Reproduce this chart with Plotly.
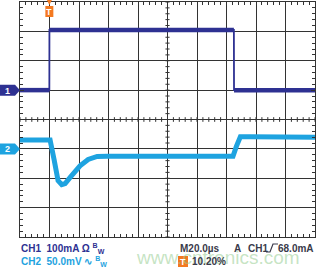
import plotly.graph_objects as go

# ---- data (time in microseconds) ----
ch1_time_us = [0, 19.9, 19.95, 145.0, 145.1, 200]
ch1_current_mA = [0, 0, 205, 205, 0, 0]

ch2_time_us = [0, 20.4, 23.1, 25.8, 28.3, 30.6, 34.0, 37.4, 40.7, 46.2, 52.3, 59.1,
               144.4, 146.7, 149.4, 156.2, 200]
ch2_voltage_mV = [15, 15, -18, -54, -61, -59, -48.6, -38.4, -29, -18, -12.8, -12.5,
                  -12.5, 4.3, 20.5, 20.5, 20]

ch1_scale_mA = 100.0   # per division
ch2_scale_mV = 50.0    # per division
ch1_ground_div = 1.0
ch2_ground_div = -1.0
trigger_time_us = 19.9

W, H = 318, 272
L, R, T, B = 20, 3, 2, 35
PW, PH = W - L - R, H - T - B


def pxx(px):
    return (px - L) / PW


def pxy(py):
    return (H - B - py) / PH


CH1_COLOR = "#2e3192"
CH2_COLOR = "#1ea3e0"
ORANGE = "#f47920"
GRID = "#333333"
TXT = "#3a3a4a"

ch1_div = [ch1_ground_div + v / ch1_scale_mA for v in ch1_current_mA]
ch2_div = [ch2_ground_div + v / ch2_scale_mV for v in ch2_voltage_mV]

# thick (noisy-looking) flat parts of CH1, thin edges
ch1_flat_x, ch1_flat_y = [], []
for i in range(len(ch1_time_us) - 1):
    if ch1_div[i] == ch1_div[i + 1]:
        ch1_flat_x += [ch1_time_us[i], ch1_time_us[i + 1], None]
        ch1_flat_y += [ch1_div[i], ch1_div[i + 1], None]

fig = go.Figure()
fig.add_trace(go.Scatter(x=ch2_time_us, y=ch2_div, mode="lines",
                         line=dict(color=CH2_COLOR, width=5), hoverinfo="skip"))
fig.add_trace(go.Scatter(x=ch1_time_us, y=ch1_div, mode="lines",
                         line=dict(color=CH1_COLOR, width=1.8), hoverinfo="skip"))
fig.add_trace(go.Scatter(x=ch1_flat_x, y=ch1_flat_y, mode="lines",
                         line=dict(color=CH1_COLOR, width=4.5), hoverinfo="skip"))

shapes = []
# center line minor ticks
for i in range(51):
    t = i * 4
    shapes.append(dict(type="line", xref="x", yref="y", x0=t, x1=t, y0=-0.08, y1=0.08,
                       line=dict(color=GRID, width=1), layer="below"))
for i in range(41):
    v = -4 + i * 0.2
    shapes.append(dict(type="line", xref="x", yref="y", x0=98.6, x1=101.4, y0=v, y1=v,
                       line=dict(color=GRID, width=1), layer="below"))

# channel ground markers
def marker(py, color):
    x0, x1, x2 = pxx(0), pxx(15), pxx(20)
    y0, ym, y1 = pxy(py - 5.5), pxy(py), pxy(py + 5.5)
    return dict(type="path", xref="paper", yref="paper",
                path=f"M{x0},{y0} L{x1},{y0} L{x2},{ym} L{x1},{y1} L{x0},{y1} Z",
                fillcolor=color, line=dict(width=0), layer="above")

shapes.append(marker(119.5 - ch1_ground_div * PH / 8, CH1_COLOR))
shapes.append(marker(119.5 - ch2_ground_div * PH / 8, CH2_COLOR))

# trigger marker
tx = trigger_time_us
dx = 4 / PW * 200
shapes.append(dict(type="path", xref="x", yref="paper",
                   path=f"M{tx - 2.5 / PW * 200},{pxy(0)} L{tx + 2.5 / PW * 200},{pxy(0)} L{tx},{pxy(5)} Z",
                   fillcolor=ORANGE, line=dict(width=0)))
shapes.append(dict(type="rect", xref="x", yref="paper", x0=tx - dx, x1=tx + dx,
                   y0=pxy(17), y1=pxy(6), fillcolor=ORANGE, line=dict(width=0)))
# small T icon near 10.20%
shapes.append(dict(type="rect", xref="paper", yref="paper", x0=pxx(178), x1=pxx(188),
                   y0=pxy(267), y1=pxy(256), fillcolor=ORANGE, line=dict(width=0)))
# rising-edge trigger symbol
shapes.append(dict(type="path", xref="paper", yref="paper",
                   path=(f"M{pxx(266)},{pxy(252)} L{pxx(270)},{pxy(252)} "
                         f"L{pxx(273)},{pxy(244)} L{pxx(278)},{pxy(244)}"),
                   line=dict(color=TXT, width=1.2)))


def txt(text, px, py, color, size=10, anchor="left", family="Liberation Sans"):
    return dict(text=text, xref="paper", yref="paper", x=pxx(px), y=pxy(py),
                xanchor=anchor, yanchor="middle", showarrow=False,
                font=dict(family=family, size=size, color=color))


annotations = [
    txt("www.cntronics.com", 134, 257, "rgba(150,205,145,0.55)", size=19),
    txt("<b>1</b>", 7.5, 90.5, "white", size=9, anchor="center"),
    txt("<b>2</b>", 7.5, 149, "white", size=9, anchor="center"),
    dict(text="<b>T</b>", xref="x", yref="paper", x=tx, y=pxy(11.5), showarrow=False,
         font=dict(family="Liberation Sans", size=9, color="white"), xanchor="center", yanchor="middle"),
    txt("<b>T</b>", 183, 261.5, "white", size=9, anchor="center"),
    txt("<b>CH1  100mA Ω <sup>B</sup><sub>W</sub></b>", 19, 248, CH1_COLOR),
    txt("<b>CH2  50.0mV ∿ <sup>B</sup><sub>W</sub></b>", 19, 261, CH2_COLOR),
    txt("<b>M20.0µs</b>", 178, 248, TXT),
    txt("<b>A</b>", 232, 248, TXT),
    txt("<b>CH1</b>", 246, 248, TXT),
    txt("<b>68.0mA</b>", 316, 248, TXT, anchor="right"),
    txt("<b>10.20%</b>", 190, 261.5, TXT),
]

axis_common = dict(showgrid=True, gridcolor=GRID, gridwidth=1, zeroline=False,
                   showline=True, linecolor=GRID, linewidth=1, mirror="ticks",
                   ticks="inside", ticklen=4, tickcolor=GRID, showticklabels=False,
                   fixedrange=True)

fig.update_layout(
    width=W, height=H, margin=dict(l=L, r=R, t=T, b=B),
    paper_bgcolor="white", plot_bgcolor="white", showlegend=False,
    xaxis=dict(range=[0, 200], dtick=20, tick0=0,
               minor=dict(ticks="inside", dtick=4, ticklen=3, tickcolor=GRID, showgrid=False),
               **axis_common),
    yaxis=dict(range=[-4, 4], dtick=1, tick0=0,
               minor=dict(ticks="inside", dtick=0.2, ticklen=3, tickcolor=GRID, showgrid=False),
               **axis_common),
    shapes=shapes, annotations=annotations,
)

fig.write_html("out.html")
